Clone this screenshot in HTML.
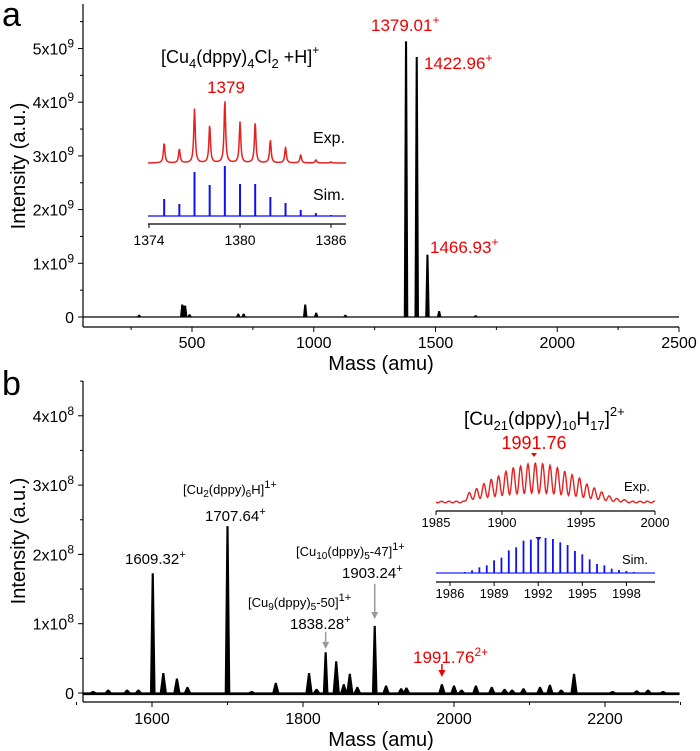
<!DOCTYPE html>
<html><head><meta charset="utf-8"><style>
html,body{margin:0;padding:0;background:#fff;}
svg{display:block;font-family:"Liberation Sans",sans-serif;}
</style></head><body>
<svg id="chart" width="700" height="751" viewBox="0 0 700 751" xmlns="http://www.w3.org/2000/svg">
<g id="gA"></g>
<g id="gB"></g>
</svg>
<script>
// ---------- Panel a data ----------
const aMasses = [283, 460, 466, 472, 490, 690, 712, 965, 1010, 1130, 1379.01, 1422.96, 1466.93, 1515, 1665];
const aHeights = [0.03, 0.22, 0.2, 0.2, 0.04, 0.05, 0.05, 0.22, 0.07, 0.03, 5.12, 4.83, 1.15, 0.1, 0.02]; // x1e9
const aXTicks = [500, 1000, 1500, 2000, 2500];
const aYTicks = [0, 1, 2, 3, 4, 5];
const aInsetMasses = [1375, 1376, 1377, 1378, 1379, 1380, 1381, 1382, 1383, 1384, 1385, 1386];
const aInsetExp = [20, 14, 54, 38, 63, 41, 41, 23, 16, 8, 3, 1];
const aInsetSim = [17, 12, 44, 31, 50, 32, 32, 19, 13, 6, 3, 1];
const aInsetTicks = [1374, 1380, 1386];
// ---------- Panel b data (positions as read on the plotted axis) ----------
const bMasses = [1522, 1542, 1567, 1582, 1601, 1615, 1633, 1647, 1700, 1732, 1764, 1808, 1818, 1830, 1844, 1854, 1862, 1872, 1895, 1910, 1930, 1937, 1984, 2000, 2010, 2029, 2050, 2067, 2077, 2092, 2114, 2127, 2142, 2159, 2210, 2242, 2257, 2277];
const bHeights = [0.02, 0.04, 0.04, 0.04, 1.72, 0.28, 0.2, 0.08, 2.4, 0.02, 0.14, 0.28, 0.05, 0.58, 0.45, 0.12, 0.27, 0.08, 0.96, 0.1, 0.06, 0.07, 0.12, 0.1, 0.04, 0.1, 0.08, 0.05, 0.04, 0.06, 0.08, 0.11, 0.04, 0.27, 0.02, 0.03, 0.04, 0.02]; // x1e8
const bXTicks = [1600, 1800, 2000, 2200];
const bYTicks = [0, 1, 2, 3, 4];
const bSimMasses = [1987,1987.5,1988,1988.5,1989,1989.5,1990,1990.5,1991,1991.5,1992,1992.5,1993,1993.5,1994,1994.5,1995,1995.5,1996,1996.5,1997,1997.5,1998,1998.5];
const bSimHeights = [3,8,17,23,38,46,68,77,97,100,108,105,102,92,84,66,56,41,27,23,13,9,6,3];
const bExpMasses = [1987.3,1987.8,1988.3,1988.8,1989.3,1989.8,1990.3,1990.8,1991.3,1991.8,1992.3,1992.8,1993.3,1993.8,1994.3,1994.8,1995.3,1995.8,1996.3,1996.8,1997.3,1997.8];
const bExpHeights = [28,40,55,68,78,92,103,108,114,117,115,110,103,92,82,72,54,42,30,18,10,6];
const bExpTicks = ["1985","1900","1995","2000"];
const bSimTicks = [1986, 1989, 1992, 1995, 1998];

const NS = "http://www.w3.org/2000/svg";
function mk(parent, tag, attrs) {
  const e = document.createElementNS(NS, tag);
  for (const k in attrs) e.setAttribute(k, attrs[k]);
  parent.appendChild(e);
  return e;
}
function txt(parent, x, y, s, size, anchor, fill, name) {
  const t = mk(parent, "text", {x: x, y: y, "font-size": size, "text-anchor": anchor || "start", fill: fill || "#000"});
  t.innerHTML = s;
  
  
  return t;
}
function line(parent, x1, y1, x2, y2, stroke, w, name) {
  const l = mk(parent, "line", {x1: x1, y1: y1, x2: x2, y2: y2, stroke: stroke, "stroke-width": w});
  
  
  return l;
}

// ================= PANEL A =================
(function () {
  const g = document.getElementById("gA");
  const X0 = 83, X1 = 679, Y0 = 317;
  const xA = m => 192 + (m - 500) * (487 / 2000);
  const yA = v => Y0 - v * 53.7;
  txt(g, 2, 26, "a", 34, "start", "#000", "panel-a-letter");
  line(g, X0, 4, X0, 327, "#000", 1.2, "y-axis-a");
  line(g, X0, 327, X1, 327, "#000", 1.2, "x-axis-a");
  for (const t of aXTicks) {
    line(g, xA(t), 327, xA(t), 332, "#000", 1, "x-tick-a");
    txt(g, xA(t), 348, String(t), 16, "middle", "#000", "x-tick-label-a");
  }
  for (let t = 250; t <= 2500; t += 500) line(g, xA(t), 327, xA(t), 330, "#000", 1, "x-minor-tick-a");
  for (const t of aYTicks) {
    line(g, X0, yA(t), X0 - 5, yA(t), "#000", 1, "y-tick-a");
    const lbl = t === 0 ? "0" : t + "x10<tspan dy='-7' font-size='12'>9</tspan>";
    txt(g, 74, yA(t) + 6, lbl, 16, "end", "#000", "y-tick-label-a");
    line(g, X0, yA(t + 0.5), X0 - 3, yA(t + 0.5), "#000", 1, "y-minor-tick-a");
  }
  const yl = txt(g, 0, 0, "Intensity (a.u.)", 20, "middle", "#000", "y-axis-title-a");
  yl.setAttribute("transform", "translate(25,166) rotate(-90)");
  txt(g, 381, 370, "Mass (amu)", 20, "middle", "#000", "x-axis-title-a");
  let d = "M" + X0 + " " + Y0 + " L" + X1 + " " + Y0;
  for (let i = 0; i < aMasses.length; i++) {
    const x = xA(aMasses[i]);
    d += " M" + (x - 1.6) + " " + Y0 + " L" + (x - 0.4) + " " + yA(aHeights[i]) + " L" + (x + 0.4) + " " + yA(aHeights[i]) + " L" + (x + 1.6) + " " + Y0;
  }
  const p = mk(g, "path", {d: d, stroke: "#000", "stroke-width": 1.3, fill: "#000"});
  
  
  txt(g, 371, 31, "1379.01<tspan dy='-7' font-size='12'>+</tspan>", 17, "start", "#e00", "peak-label-1379");
  txt(g, 424, 69, "1422.96<tspan dy='-7' font-size='12'>+</tspan>", 17, "start", "#e00", "peak-label-1422");
  txt(g, 430, 253, "1466.93<tspan dy='-7' font-size='12'>+</tspan>", 17, "start", "#e00", "peak-label-1466");
  const ix = m => 149 + (m - 1374) * 15.17;
  txt(g, 161, 63, "[Cu<tspan dy='5' font-size='13'>4</tspan><tspan dy='-5'>(dppy)</tspan><tspan dy='5' font-size='13'>4</tspan><tspan dy='-5'>Cl</tspan><tspan dy='5' font-size='13'>2</tspan><tspan dy='-5'> +H]</tspan><tspan dy='-9' font-size='12'>+</tspan>", 18, "start", "#000", "inset-a-title");
  txt(g, 226, 93, "1379", 17, "middle", "#e00", "inset-a-peak-label");
  txt(g, 313, 143, "Exp.", 16, "start", "#000", "inset-a-exp-label");
  txt(g, 313, 200, "Sim.", 16, "start", "#000", "inset-a-sim-label");
  let de = "";
  for (let x = 148; x <= 346; x += 0.5) {
    const m = 1374 + (x - 149) / 15.17;
    let v = 0;
    for (let i = 0; i < aInsetMasses.length; i++) {
      const dm = (m - aInsetMasses[i]) / 0.06;
      v += aInsetExp[i] / (1 + dm * dm);
    }
    de += (de ? " L" : "M") + x + " " + (163 - v).toFixed(2);
  }
  const pe = mk(g, "path", {d: de, stroke: "#e82020", "stroke-width": 1.5, fill: "none"});
  
  
  line(g, 148, 216, 346, 216, "#3030ff", 1.4, "inset-a-sim-baseline");
  for (let i = 0; i < aInsetMasses.length; i++) {
    line(g, ix(aInsetMasses[i]), 216, ix(aInsetMasses[i]), 216 - aInsetSim[i], "#1010ee", 2, "inset-a-sim-stick");
  }
  line(g, 148, 224, 346, 224, "#000", 1.2, "inset-a-x-axis");
  for (const t of aInsetTicks) {
    line(g, ix(t), 224, ix(t), 228, "#000", 1, "inset-a-tick");
    txt(g, ix(t), 245, String(t), 14, "middle", "#000", "inset-a-tick-label");
  }
})();

// ================= PANEL B =================
(function () {
  const g = document.getElementById("gB");
  const X0 = 83, X1 = 679, Y0 = 693;
  const xB = m => 152 + (m - 1600) * 0.755;
  const yB = v => Y0 - v * 69.3;
  txt(g, 2, 395, "b", 34, "start", "#000", "panel-b-letter");
  line(g, X0, 381, X0, 702, "#000", 1.2, "y-axis-b");
  line(g, X0, 702, X1, 702, "#000", 1.2, "x-axis-b");
  for (const t of bXTicks) {
    line(g, xB(t), 702, xB(t), 707, "#000", 1, "x-tick-b");
    txt(g, xB(t), 724, String(t), 16, "middle", "#000", "x-tick-label-b");
  }
  for (let t = 1500; t <= 2300; t += 100) line(g, xB(t), 702, xB(t), 705, "#000", 1, "x-minor-tick-b");
  for (const t of bYTicks) {
    line(g, X0, yB(t), X0 - 5, yB(t), "#000", 1, "y-tick-b");
    const lbl = t === 0 ? "0" : t + "x10<tspan dy='-7' font-size='12'>8</tspan>";
    txt(g, 74, yB(t) + 6, lbl, 16, "end", "#000", "y-tick-label-b");
    line(g, X0, yB(t + 0.5), X0 - 3, yB(t + 0.5), "#000", 1, "y-minor-tick-b");
  }
  const yl = txt(g, 0, 0, "Intensity (a.u.)", 20, "middle", "#000", "y-axis-title-b");
  yl.setAttribute("transform", "translate(25,541) rotate(-90)");
  txt(g, 381, 746, "Mass (amu)", 20, "middle", "#000", "x-axis-title-b");
  let d = "M" + X0 + " " + Y0 + " L" + X1 + " " + Y0 + " L" + X1 + " " + (Y0 + 1.5) + " L" + X0 + " " + (Y0 + 1.5) + "Z";
  for (let i = 0; i < bMasses.length; i++) {
    const x = xB(bMasses[i]);
    const w = bHeights[i] > 0.5 ? 2.2 : 3;
    d += " M" + (x - w) + " " + Y0 + " L" + (x - 0.5) + " " + yB(bHeights[i]) + " L" + (x + 0.5) + " " + yB(bHeights[i]) + " L" + (x + w) + " " + Y0 + "Z";
  }
  const p = mk(g, "path", {d: d, stroke: "#000", "stroke-width": 1.2, fill: "#000"});
  
  
  txt(g, 125, 564, "1609.32<tspan dy='-6' font-size='11'>+</tspan>", 15, "start", "#000", "peak-label-1609");
  txt(g, 183, 494, "[Cu<tspan dy='3' font-size='10'>2</tspan><tspan dy='-3'>(dppy)</tspan><tspan dy='3' font-size='10'>6</tspan><tspan dy='-3'>H]</tspan><tspan dy='-6' font-size='11'>1+</tspan>", 13, "start", "#000", "label-cu2");
  txt(g, 205, 521, "1707.64<tspan dy='-6' font-size='11'>+</tspan>", 15, "start", "#000", "peak-label-1707");
  txt(g, 296, 556, "[Cu<tspan dy='3' font-size='10'>10</tspan><tspan dy='-3'>(dppy)</tspan><tspan dy='3' font-size='10'>5</tspan><tspan dy='-3'>-47]</tspan><tspan dy='-6' font-size='11'>1+</tspan>", 13, "start", "#000", "label-cu10");
  txt(g, 342, 578, "1903.24<tspan dy='-6' font-size='11'>+</tspan>", 15, "start", "#000", "peak-label-1903");
  txt(g, 248, 607, "[Cu<tspan dy='3' font-size='10'>9</tspan><tspan dy='-3'>(dppy)</tspan><tspan dy='3' font-size='10'>5</tspan><tspan dy='-3'>-50]</tspan><tspan dy='-6' font-size='11'>1+</tspan>", 13, "start", "#000", "label-cu9");
  txt(g, 290, 629, "1838.28<tspan dy='-6' font-size='11'>+</tspan>", 15, "start", "#000", "peak-label-1838");
  txt(g, 413, 663, "1991.76<tspan dy='-7' font-size='12'>2+</tspan>", 17, "start", "#e00", "peak-label-1991");
  function arrow(m, y1, y2, col, name) {
    const x = xB(m);
    line(g, x, y1, x, y2 - 5, col, 1.5, name + "-shaft");
    const a = mk(g, "path", {d: "M" + (x - 3.5) + " " + (y2 - 7) + " L" + (x + 3.5) + " " + (y2 - 7) + " L" + x + " " + y2 + "Z", fill: col});
    
    
  }
  arrow(1830, 632, 649, "#999", "arrow-1838");
  arrow(1895, 584, 619, "#999", "arrow-1903");
  arrow(1984, 664, 677, "#e00", "arrow-1991");
  txt(g, 464, 425, "[Cu<tspan dy='5' font-size='13'>21</tspan><tspan dy='-5'>(dppy)</tspan><tspan dy='5' font-size='13'>10</tspan><tspan dy='-5'>H</tspan><tspan dy='5' font-size='13'>17</tspan><tspan dy='-5'>]</tspan><tspan dy='-9' font-size='13'>2+</tspan>", 19, "start", "#000", "inset-b-title");
  txt(g, 534, 449, "1991.76", 18, "middle", "#e00", "inset-b-peak-label");
  txt(g, 624, 491, "Exp.", 13, "start", "#000", "inset-b-exp-label");
  txt(g, 622, 564, "Sim.", 13, "start", "#000", "inset-b-sim-label");
  const sx = m => 450 + (m - 1986) * 14.7;
  let de = "";
  for (let x = 436; x <= 655; x += 0.5) {
    const m = 1986 + (x - 450) / 14.7;
    let v = 0;
    for (let i = 0; i < bExpMasses.length; i++) {
      const dm = (m - bExpMasses[i]) / 0.12;
      v += (bExpHeights[i] / 3) * Math.exp(-0.5 * dm * dm);
    }
    v += 0.8 * Math.sin((m - 1987.3) * Math.PI * 4);
    de += (de ? " L" : "M") + x + " " + (502 - v).toFixed(2);
  }
  const pe = mk(g, "path", {d: de, stroke: "#e82020", "stroke-width": 1.4, fill: "none"});
  
  
  const tri1 = mk(g, "path", {d: "M531 453 L537 453 L534 457Z", fill: "#e00"});
  
  
  line(g, 436, 511, 655, 511, "#000", 1.2, "inset-b-exp-x-axis");
  const expTickX = [436, 502, 581, 655];
  for (let i = 0; i < bExpTicks.length; i++) {
    line(g, expTickX[i], 511, expTickX[i], 515, "#000", 1, "inset-b-exp-tick");
    txt(g, expTickX[i], 527, bExpTicks[i], 13, "middle", "#000", "inset-b-exp-tick-label");
  }
  line(g, 436, 573, 655, 573, "#2020ff", 1.3, "inset-b-sim-baseline");
  for (let i = 0; i < bSimMasses.length; i++) {
    line(g, sx(bSimMasses[i]), 573, sx(bSimMasses[i]), 573 - bSimHeights[i] / 3, "#1010ee", 1.8, "inset-b-sim-stick");
  }
  const tri2 = mk(g, "path", {d: "M535.5 537 L541.5 537 L538.5 541Z", fill: "#1010ee"});
  
  
  line(g, 436, 582, 655, 582, "#000", 1.2, "inset-b-sim-x-axis");
  for (const t of bSimTicks) {
    line(g, sx(t), 582, sx(t), 586, "#000", 1, "inset-b-sim-tick");
    txt(g, sx(t), 598, String(t), 13, "middle", "#000", "inset-b-sim-tick-label");
  }
})();
</script>
</body></html>
